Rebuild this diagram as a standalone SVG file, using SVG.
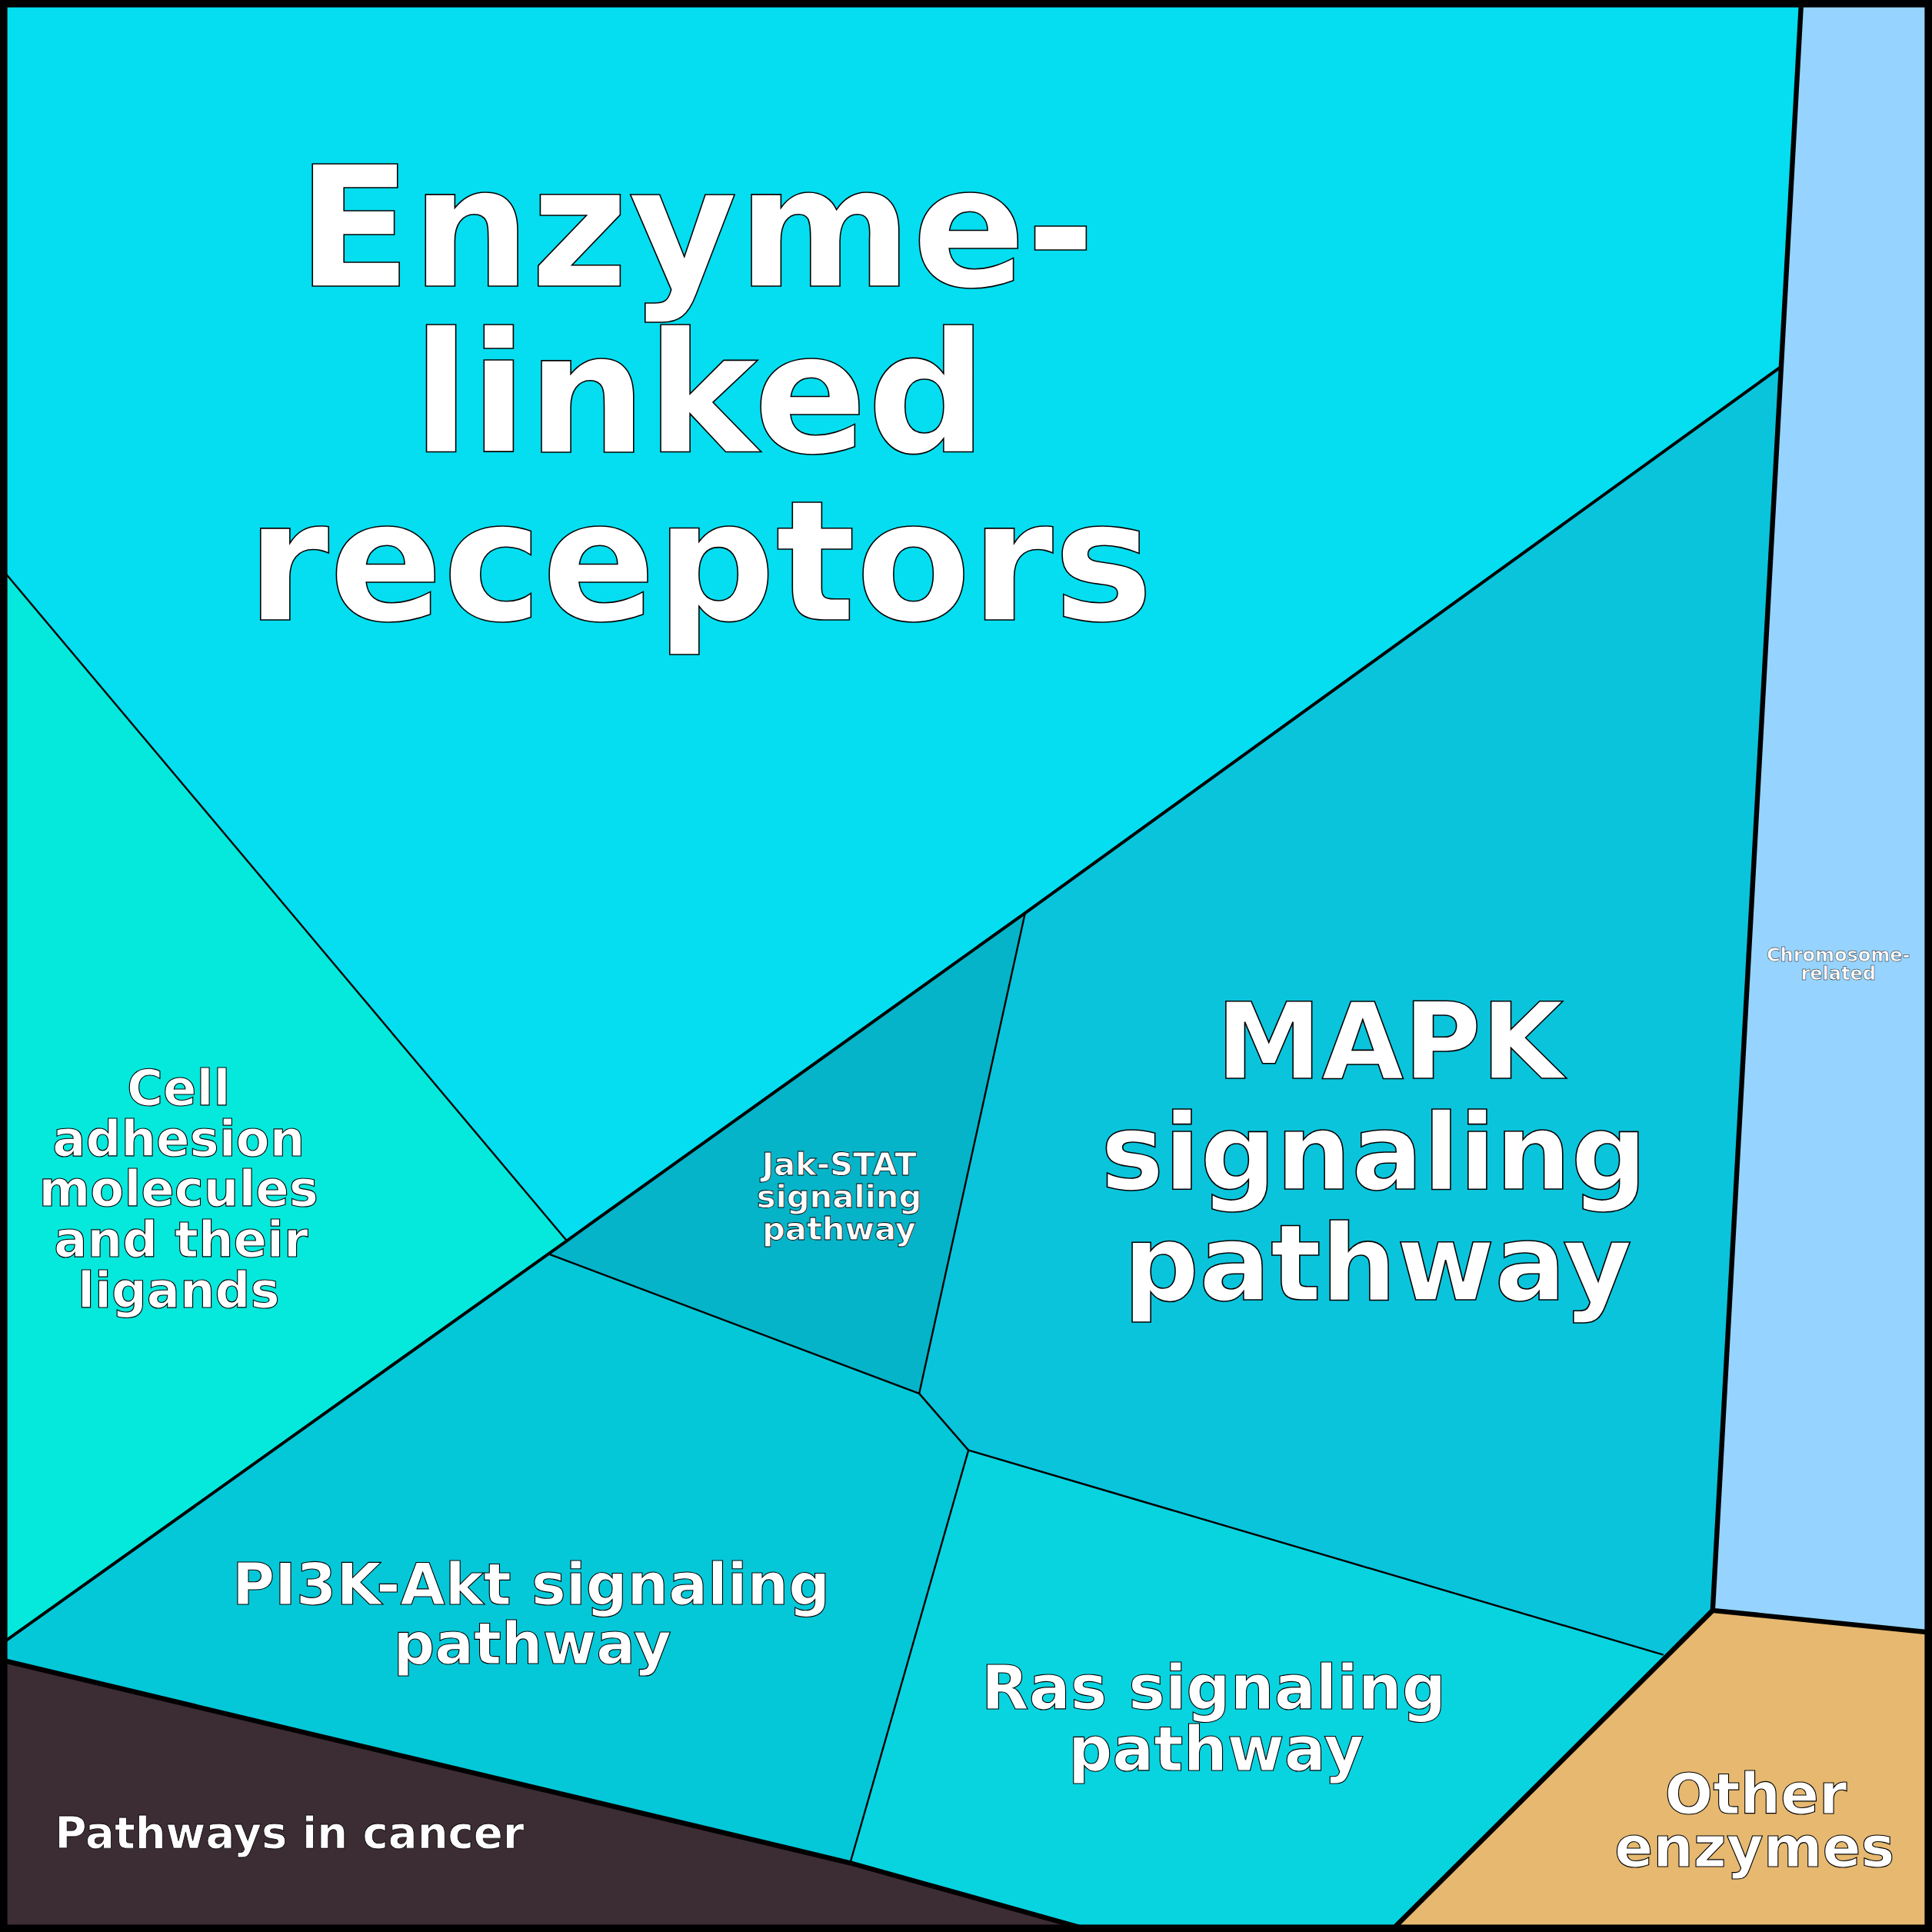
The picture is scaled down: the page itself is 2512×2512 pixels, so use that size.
<svg xmlns="http://www.w3.org/2000/svg" width="2512" height="2512" viewBox="0 0 2512 2512">
<style>
text{font-family:"DejaVu Sans",sans-serif;font-weight:bold;fill:#fff;stroke:#000;text-anchor:middle}
.l{fill:none;stroke:#000}
</style>
<g transform="scale(1.60204)">
<g id="enzyme-linked"><polygon points="0,0 1462,0 1390,1307 1128,1568 890,1568 0,1347" fill="#04DEF0"/></g>
<g id="cell-adhesion"><polygon points="0,460 460,1007 0,1335" fill="#05E8DC"/></g>
<g id="mapk"><polygon points="1445,298 1390,1307 1350,1343 786,1177 746,1131 832,741" fill="#0AC4DC"/></g>
<g id="jak-stat"><polygon points="832,741 746,1131 446,1018" fill="#05B4C8"/></g>
<g id="pi3k"><polygon points="446,1018 746,1131 786,1177 690,1512 0,1347 0,1335" fill="#04C8D8"/></g>
<g id="ras"><polygon points="786,1177 1350,1343 1128,1568 890,1568 690,1512" fill="#08D4E0"/></g>
<g id="chromosome"><polygon points="1462,0 1568,0 1568,1325 1390,1307" fill="#96D4FF"/></g>
<g id="other-enzymes"><polygon points="1390,1307 1568,1325 1568,1568 1128,1568" fill="#E6B870"/></g>
<g id="cancer"><polygon points="0,1347 690,1512 890,1568 0,1568" fill="#3C2C34"/></g>
<g id="connectors">
<polyline class="l" stroke-width="1.5" points="0,460 460,1007"/>
<polyline class="l" stroke-width="2.5" points="1445,298 832,741 460,1007 0,1335"/>
<polyline class="l" stroke-width="1.5" points="832,741 746,1131 446,1018"/>
<polyline class="l" stroke-width="1.5" points="746,1131 786,1177 690,1512"/>
<polyline class="l" stroke-width="1.5" points="786,1177 1350,1343"/>
<polyline class="l" stroke-width="4" points="1462,0 1390,1307 1568,1325"/>
<polyline class="l" stroke-width="4" points="1390,1307 1128,1568"/>
<polyline class="l" stroke-width="4" points="0,1347 690,1512 890,1568"/>
<rect x="3" y="3" width="1562" height="1562" class="l" stroke-width="6"/>
</g>
<g id="labels">
<text font-size="136" stroke-width="1" x="565" y="232">Enzyme-</text>
<text font-size="136" stroke-width="1" x="568" y="367">linked</text>
<text font-size="136" stroke-width="1" x="568" y="503">receptors</text>
<text font-size="86" stroke-width="1" x="1128" y="875">MAPK</text>
<text font-size="86" stroke-width="1" x="1115" y="965">signaling</text>
<text font-size="86" stroke-width="1" x="1118" y="1055">pathway</text>
<text font-size="40" stroke-width="0.7" x="145" y="897">Cell</text>
<text font-size="40" stroke-width="0.7" x="145" y="938">adhesion</text>
<text font-size="40" stroke-width="0.7" x="145" y="979">molecules</text>
<text font-size="40" stroke-width="0.7" x="147" y="1020">and their</text>
<text font-size="40" stroke-width="0.7" x="145" y="1061">ligands</text>
<text font-size="26" stroke-width="0.5" x="681" y="954">Jak-STAT</text>
<text font-size="26" stroke-width="0.5" x="681" y="980">signaling</text>
<text font-size="26" stroke-width="0.5" x="681" y="1006">pathway</text>
<text font-size="47" stroke-width="0.7" x="431" y="1302">PI3K-Akt signaling</text>
<text font-size="47" stroke-width="0.7" x="432" y="1350">pathway</text>
<text font-size="50" stroke-width="0.7" x="985" y="1387">Ras signaling</text>
<text font-size="50" stroke-width="0.7" x="987" y="1437">pathway</text>
<text font-size="46" stroke-width="0.7" x="1425" y="1472">Other</text>
<text font-size="46" stroke-width="0.7" x="1424" y="1515">enzymes</text>
<text font-size="35" stroke-width="0.5" x="235" y="1500">Pathways in cancer</text>
<text font-size="15" stroke-width="0.3" x="1492" y="780">Chromosome-</text>
<text font-size="15" stroke-width="0.3" x="1492" y="795">related</text>
</g>
</g>
</svg>
